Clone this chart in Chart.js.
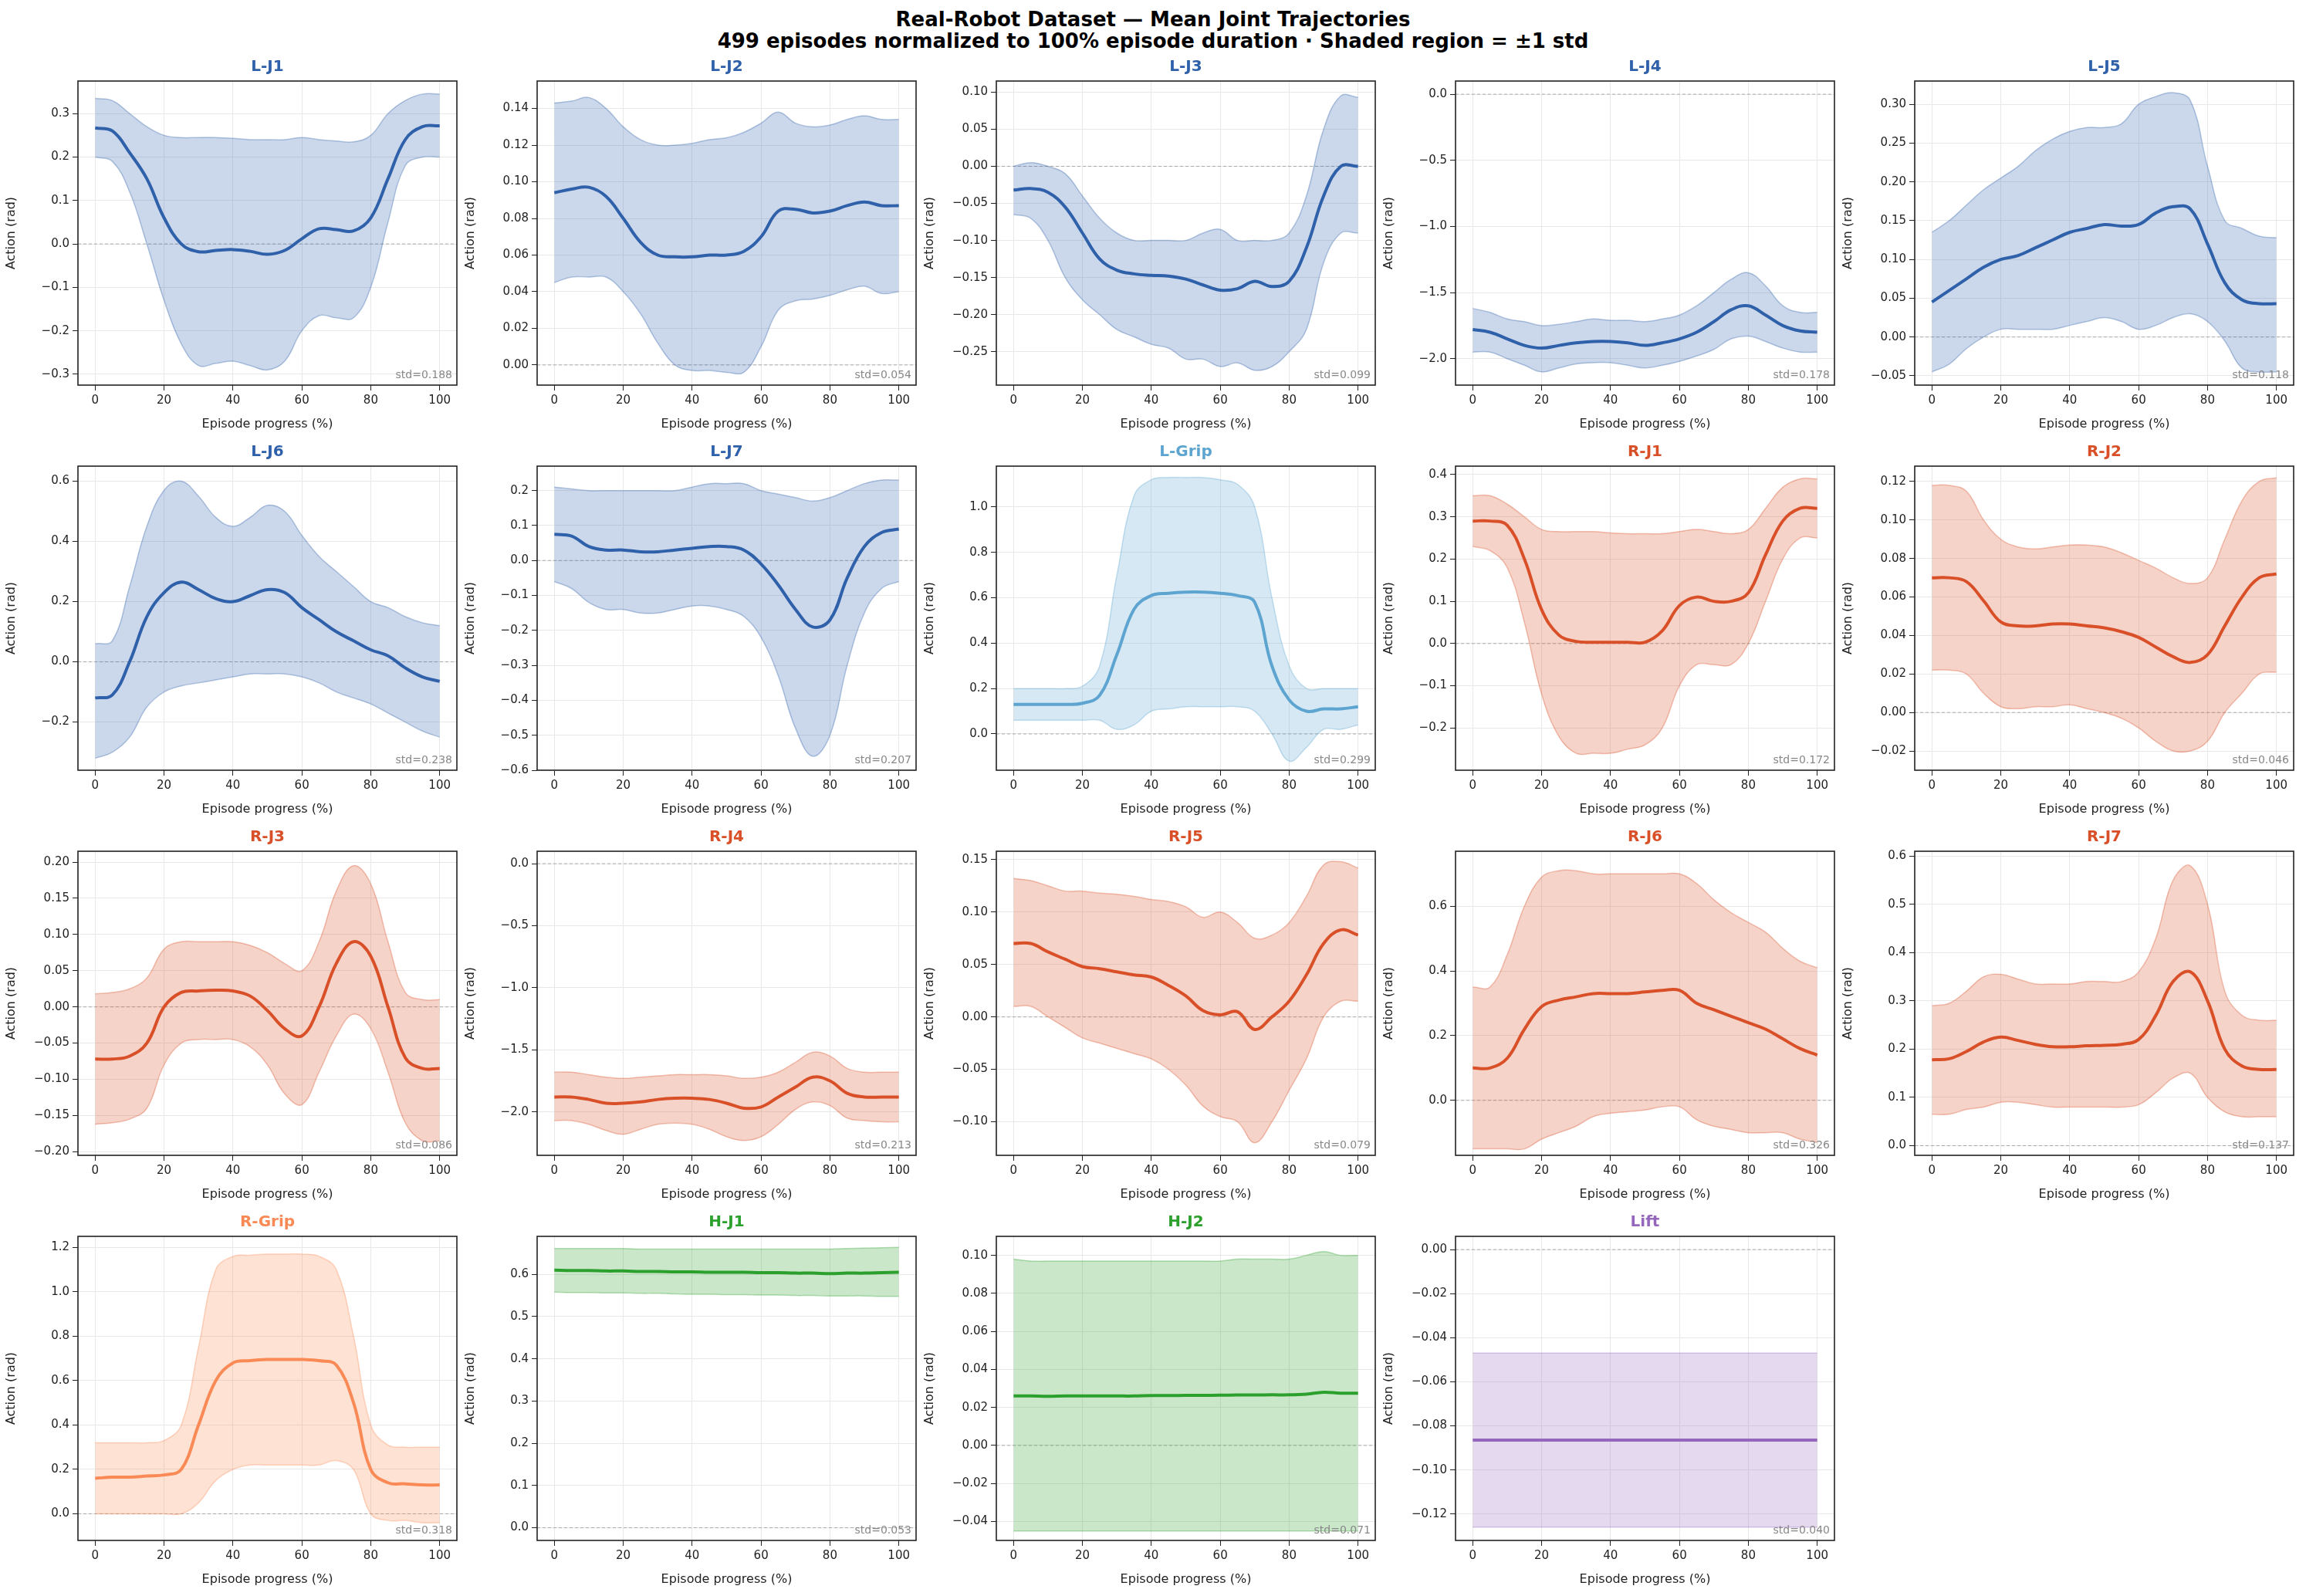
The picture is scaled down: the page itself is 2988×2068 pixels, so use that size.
<!DOCTYPE html>
<html><head><meta charset="utf-8">
<script src="https://cdn.jsdelivr.net/npm/chart.js@4.4.0/dist/chart.umd.min.js"></script>
<style>
html,body{margin:0;padding:0;background:#fff;width:2988px;height:2068px;overflow:hidden;font-family:"DejaVu Sans",sans-serif}
.cell{position:absolute}
#t1,#t2{position:absolute;left:0;width:2988px;text-align:center;font-weight:bold;font-size:26px;color:#000}
</style></head><body>
<div id="t1" style="top:10px">Real-Robot Dataset — Mean Joint Trajectories</div>
<div id="t2" style="top:38px">499 episodes normalized to 100% episode duration · Shaded region = ±1 std</div>
<script>
const progress = [0,5,10,15,20,25,30,35,40,45,50,55,60,65,70,75,80,85,90,95,100];
const xTicks = [0,20,40,60,80,100];
const names = ["L-J1","L-J2","L-J3","L-J4","L-J5","L-J6","L-J7","L-Grip","R-J1","R-J2","R-J3","R-J4","R-J5","R-J6","R-J7","R-Grip","H-J1","H-J2","Lift"];
const stds = ["0.188","0.054","0.099","0.178","0.118","0.238","0.207","0.299","0.172","0.046","0.086","0.213","0.079","0.326","0.137","0.318","0.053","0.071","0.040"];
const yRanges = [[-0.325,0.375],[-0.011,0.155],[-0.295,0.115],[-2.2,0.1],[-0.062,0.33],[-0.36,0.65],[-0.6,0.27],[-0.16,1.18],[-0.3,0.42],[-0.03,0.128],[-0.205,0.215],[-2.35,0.1],[-0.132,0.158],[-0.17,0.77],[-0.02,0.61],[-0.12,1.25],[-0.03,0.69],[-0.05,0.11],[-0.132,0.006]];
const yTicks = [
[-0.3,-0.2,-0.1,0,0.1,0.2,0.3],
[0,0.02,0.04,0.06,0.08,0.10,0.12,0.14],
[-0.25,-0.2,-0.15,-0.1,-0.05,0,0.05,0.1],
[-2.0,-1.5,-1.0,-0.5,0.0],
[-0.05,0,0.05,0.1,0.15,0.2,0.25,0.3],
[-0.2,0,0.2,0.4,0.6],
[-0.6,-0.5,-0.4,-0.3,-0.2,-0.1,0,0.1,0.2],
[0,0.2,0.4,0.6,0.8,1.0],
[-0.2,-0.1,0,0.1,0.2,0.3,0.4],
[-0.02,0,0.02,0.04,0.06,0.08,0.10,0.12],
[-0.2,-0.15,-0.1,-0.05,0,0.05,0.1,0.15,0.2],
[-2.0,-1.5,-1.0,-0.5,0.0],
[-0.1,-0.05,0,0.05,0.1,0.15],
[0,0.2,0.4,0.6],
[0,0.1,0.2,0.3,0.4,0.5,0.6],
[0,0.2,0.4,0.6,0.8,1.0,1.2],
[0,0.1,0.2,0.3,0.4,0.5,0.6],
[-0.04,-0.02,0,0.02,0.04,0.06,0.08,0.10],
[-0.12,-0.10,-0.08,-0.06,-0.04,-0.02,0.00]];
const yDecimals = [1,2,2,1,2,1,1,1,1,2,2,1,2,1,1,1,1,2,2];
const means = [
[0.267,0.26,0.21,0.15,0.06,0.0,-0.018,-0.015,-0.013,-0.017,-0.024,-0.015,0.012,0.035,0.033,0.03,0.06,0.15,0.24,0.27,0.272],
[0.094,0.096,0.097,0.092,0.08,0.067,0.06,0.059,0.059,0.06,0.06,0.062,0.07,0.084,0.085,0.083,0.084,0.087,0.089,0.087,0.087],
[-0.032,-0.03,-0.035,-0.055,-0.09,-0.125,-0.14,-0.145,-0.147,-0.148,-0.152,-0.16,-0.167,-0.165,-0.155,-0.162,-0.155,-0.11,-0.04,0.0,0.0],
[-1.78,-1.8,-1.85,-1.9,-1.92,-1.9,-1.88,-1.87,-1.87,-1.88,-1.9,-1.88,-1.85,-1.8,-1.72,-1.63,-1.6,-1.67,-1.75,-1.79,-1.8],
[0.045,0.06,0.075,0.09,0.1,0.105,0.115,0.125,0.135,0.14,0.145,0.143,0.145,0.16,0.168,0.165,0.12,0.07,0.048,0.043,0.043],
[-0.12,-0.11,0.0,0.15,0.23,0.265,0.24,0.21,0.2,0.22,0.24,0.23,0.18,0.14,0.1,0.07,0.04,0.02,-0.02,-0.05,-0.065],
[0.075,0.07,0.04,0.03,0.03,0.025,0.025,0.03,0.035,0.04,0.04,0.03,-0.01,-0.07,-0.14,-0.19,-0.17,-0.05,0.04,0.08,0.09],
[0.13,0.13,0.13,0.13,0.135,0.17,0.35,0.55,0.61,0.62,0.625,0.625,0.62,0.61,0.58,0.3,0.15,0.1,0.11,0.11,0.12],
[0.29,0.29,0.28,0.2,0.08,0.02,0.005,0.003,0.003,0.003,0.003,0.03,0.09,0.11,0.1,0.1,0.12,0.21,0.29,0.32,0.32],
[0.07,0.07,0.068,0.058,0.047,0.045,0.045,0.046,0.046,0.045,0.044,0.042,0.039,0.034,0.029,0.026,0.03,0.045,0.06,0.07,0.072],
[-0.072,-0.072,-0.068,-0.05,0.0,0.02,0.022,0.023,0.022,0.015,-0.005,-0.03,-0.04,0.0,0.06,0.09,0.07,0.0,-0.07,-0.085,-0.085],
[-1.88,-1.88,-1.9,-1.93,-1.93,-1.92,-1.9,-1.89,-1.89,-1.9,-1.93,-1.97,-1.96,-1.88,-1.8,-1.72,-1.75,-1.85,-1.88,-1.88,-1.88],
[0.07,0.07,0.062,0.055,0.048,0.046,0.043,0.04,0.038,0.03,0.02,0.006,0.002,0.005,-0.012,0.0,0.015,0.04,0.07,0.083,0.078],
[0.1,0.1,0.13,0.22,0.29,0.31,0.32,0.33,0.33,0.33,0.335,0.34,0.34,0.3,0.28,0.26,0.24,0.22,0.19,0.16,0.14],
[0.178,0.18,0.195,0.215,0.225,0.218,0.21,0.205,0.205,0.207,0.208,0.21,0.22,0.27,0.34,0.36,0.3,0.2,0.165,0.158,0.158],
[0.16,0.165,0.165,0.17,0.175,0.2,0.4,0.6,0.68,0.69,0.695,0.695,0.695,0.69,0.67,0.5,0.2,0.14,0.135,0.13,0.13],
[0.61,0.609,0.609,0.608,0.608,0.607,0.607,0.606,0.606,0.605,0.605,0.605,0.604,0.604,0.603,0.603,0.602,0.603,0.603,0.604,0.605],
[0.026,0.026,0.0258,0.026,0.026,0.026,0.026,0.026,0.0262,0.0262,0.0263,0.0263,0.0264,0.0265,0.0265,0.0266,0.0266,0.027,0.028,0.0275,0.0275],
[-0.0865,-0.0865,-0.0865,-0.0865,-0.0865,-0.0865,-0.0865,-0.0865,-0.0865,-0.0865,-0.0865,-0.0865,-0.0865,-0.0865,-0.0865,-0.0865,-0.0865,-0.0865,-0.0865,-0.0865,-0.0865]];
const uppers = [
[0.335,0.33,0.3,0.27,0.25,0.245,0.245,0.245,0.243,0.24,0.24,0.24,0.245,0.24,0.237,0.235,0.25,0.3,0.33,0.345,0.345],
[0.143,0.144,0.146,0.14,0.13,0.123,0.12,0.12,0.121,0.123,0.124,0.127,0.132,0.138,0.132,0.13,0.131,0.134,0.136,0.134,0.134],
[0.0,0.005,0.0,-0.01,-0.04,-0.07,-0.09,-0.1,-0.1,-0.1,-0.1,-0.09,-0.085,-0.1,-0.1,-0.1,-0.09,-0.04,0.05,0.095,0.093],
[-1.62,-1.65,-1.7,-1.72,-1.75,-1.74,-1.72,-1.7,-1.71,-1.71,-1.72,-1.7,-1.67,-1.6,-1.5,-1.4,-1.35,-1.45,-1.6,-1.65,-1.65],
[0.135,0.15,0.17,0.19,0.205,0.22,0.24,0.255,0.265,0.27,0.27,0.275,0.3,0.31,0.315,0.305,0.22,0.15,0.14,0.13,0.128],
[0.06,0.07,0.25,0.45,0.57,0.6,0.55,0.48,0.45,0.48,0.52,0.5,0.42,0.35,0.3,0.25,0.2,0.18,0.15,0.13,0.12],
[0.21,0.205,0.2,0.2,0.2,0.2,0.2,0.2,0.21,0.22,0.22,0.22,0.2,0.19,0.18,0.17,0.18,0.2,0.22,0.23,0.23],
[0.2,0.2,0.2,0.2,0.21,0.3,0.7,1.05,1.12,1.13,1.13,1.13,1.12,1.1,1.0,0.6,0.3,0.2,0.2,0.2,0.2],
[0.35,0.35,0.33,0.3,0.27,0.265,0.265,0.265,0.262,0.26,0.26,0.26,0.265,0.27,0.265,0.26,0.27,0.32,0.37,0.39,0.39],
[0.118,0.118,0.115,0.1,0.09,0.086,0.085,0.086,0.087,0.087,0.086,0.083,0.079,0.075,0.07,0.067,0.07,0.09,0.11,0.12,0.122],
[0.018,0.02,0.025,0.04,0.08,0.09,0.09,0.09,0.09,0.085,0.075,0.06,0.05,0.09,0.16,0.195,0.17,0.09,0.02,0.01,0.01],
[-1.68,-1.68,-1.7,-1.72,-1.73,-1.72,-1.71,-1.7,-1.7,-1.7,-1.71,-1.73,-1.72,-1.68,-1.6,-1.52,-1.55,-1.65,-1.68,-1.68,-1.68],
[0.132,0.13,0.125,0.12,0.12,0.118,0.117,0.115,0.112,0.11,0.105,0.095,0.1,0.09,0.075,0.078,0.09,0.115,0.145,0.148,0.142],
[0.35,0.35,0.45,0.6,0.69,0.71,0.71,0.7,0.7,0.7,0.7,0.7,0.7,0.67,0.62,0.58,0.55,0.52,0.47,0.43,0.41],
[0.29,0.295,0.32,0.35,0.355,0.345,0.335,0.335,0.335,0.34,0.34,0.34,0.36,0.43,0.55,0.58,0.5,0.32,0.27,0.26,0.26],
[0.32,0.32,0.32,0.32,0.33,0.4,0.75,1.1,1.16,1.165,1.17,1.17,1.17,1.16,1.1,0.8,0.4,0.31,0.3,0.3,0.3],
[0.661,0.661,0.661,0.661,0.661,0.66,0.66,0.66,0.66,0.66,0.66,0.66,0.66,0.66,0.66,0.66,0.66,0.661,0.662,0.663,0.664],
[0.098,0.097,0.097,0.097,0.097,0.097,0.097,0.097,0.097,0.097,0.097,0.097,0.097,0.098,0.098,0.098,0.098,0.1,0.102,0.1,0.1],
[-0.047,-0.047,-0.047,-0.047,-0.047,-0.047,-0.047,-0.047,-0.047,-0.047,-0.047,-0.047,-0.047,-0.047,-0.047,-0.047,-0.047,-0.047,-0.047,-0.047,-0.047]];
const lowers = [
[0.2,0.19,0.12,0.0,-0.13,-0.23,-0.28,-0.275,-0.27,-0.28,-0.29,-0.27,-0.2,-0.165,-0.17,-0.17,-0.1,0.05,0.18,0.2,0.2],
[0.045,0.048,0.048,0.048,0.04,0.028,0.012,0.0,-0.003,-0.003,-0.004,-0.004,0.01,0.03,0.035,0.036,0.038,0.041,0.043,0.039,0.04],
[-0.065,-0.07,-0.1,-0.15,-0.18,-0.2,-0.22,-0.23,-0.24,-0.245,-0.26,-0.26,-0.27,-0.265,-0.275,-0.27,-0.25,-0.22,-0.13,-0.09,-0.09],
[-1.95,-1.95,-2.0,-2.05,-2.1,-2.07,-2.04,-2.03,-2.03,-2.05,-2.07,-2.05,-2.02,-1.98,-1.93,-1.85,-1.83,-1.87,-1.92,-1.95,-1.95],
[-0.045,-0.035,-0.015,0.0,0.01,0.01,0.01,0.01,0.015,0.02,0.025,0.02,0.01,0.015,0.025,0.03,0.02,-0.005,-0.04,-0.045,-0.045],
[-0.32,-0.3,-0.25,-0.15,-0.1,-0.08,-0.07,-0.06,-0.05,-0.04,-0.04,-0.04,-0.05,-0.07,-0.1,-0.12,-0.14,-0.17,-0.2,-0.23,-0.25],
[-0.06,-0.08,-0.12,-0.14,-0.14,-0.15,-0.15,-0.14,-0.13,-0.13,-0.14,-0.16,-0.22,-0.33,-0.48,-0.56,-0.5,-0.3,-0.15,-0.08,-0.06],
[0.06,0.06,0.06,0.06,0.06,0.06,0.02,0.04,0.1,0.11,0.12,0.12,0.12,0.12,0.1,0.0,-0.12,-0.06,0.02,0.02,0.04],
[0.23,0.22,0.18,0.05,-0.12,-0.22,-0.26,-0.26,-0.26,-0.25,-0.24,-0.2,-0.1,-0.05,-0.05,-0.05,0.0,0.1,0.2,0.25,0.25],
[0.022,0.022,0.02,0.01,0.003,0.002,0.003,0.003,0.004,0.002,0.0,-0.003,-0.008,-0.015,-0.02,-0.02,-0.015,0.0,0.01,0.02,0.021],
[-0.162,-0.16,-0.155,-0.14,-0.08,-0.05,-0.045,-0.045,-0.045,-0.055,-0.08,-0.12,-0.135,-0.09,-0.04,-0.01,-0.03,-0.09,-0.16,-0.185,-0.185],
[-2.07,-2.07,-2.1,-2.15,-2.18,-2.14,-2.1,-2.09,-2.1,-2.14,-2.2,-2.23,-2.2,-2.1,-1.98,-1.92,-1.95,-2.05,-2.07,-2.08,-2.08],
[0.01,0.01,0.0,-0.01,-0.02,-0.025,-0.03,-0.035,-0.04,-0.05,-0.065,-0.085,-0.095,-0.1,-0.12,-0.1,-0.07,-0.04,0.0,0.015,0.015],
[-0.15,-0.15,-0.15,-0.15,-0.12,-0.1,-0.08,-0.05,-0.04,-0.035,-0.03,-0.02,-0.02,-0.06,-0.08,-0.09,-0.1,-0.1,-0.1,-0.12,-0.13],
[0.065,0.065,0.075,0.08,0.09,0.09,0.085,0.08,0.08,0.08,0.08,0.08,0.085,0.11,0.14,0.15,0.1,0.07,0.06,0.06,0.06],
[0.0,0.0,0.0,0.0,0.0,0.0,0.05,0.15,0.2,0.22,0.22,0.22,0.22,0.22,0.24,0.2,0.0,-0.03,-0.03,-0.04,-0.04],
[0.558,0.557,0.557,0.556,0.556,0.555,0.555,0.554,0.553,0.553,0.552,0.552,0.551,0.551,0.55,0.55,0.549,0.549,0.549,0.548,0.548],
[-0.045,-0.045,-0.045,-0.045,-0.045,-0.045,-0.045,-0.045,-0.045,-0.045,-0.045,-0.045,-0.045,-0.045,-0.045,-0.045,-0.045,-0.045,-0.045,-0.045,-0.045],
[-0.126,-0.126,-0.126,-0.126,-0.126,-0.126,-0.126,-0.126,-0.126,-0.126,-0.126,-0.126,-0.126,-0.126,-0.126,-0.126,-0.126,-0.126,-0.126,-0.126,-0.126]];

const BLUE=[47,96,170], LBLUE=[93,165,208], RED=[217,80,40], ORANGE=[250,138,85], GREEN=[44,160,44], PURPLE=[148,103,189];
const colors = [BLUE,BLUE,BLUE,BLUE,BLUE,BLUE,BLUE,LBLUE,RED,RED,RED,RED,RED,RED,RED,ORANGE,GREEN,GREEN,PURPLE];
const rgba=(c,a)=>`rgba(${c[0]},${c[1]},${c[2]},${a})`;

const colL=[101,696,1291,1886,2481], rowT=[105,604,1103,1602], AW=491, AH=394;
const PADL=100, PADT=40, PADR=14, PADB=64;
const FONT='"DejaVu Sans", sans-serif';

const framePlugin={id:'frame',afterDraw(ch,args,o){
  const a=ch.chartArea, c=ch.ctx;
  c.save();
  c.strokeStyle='#222'; c.lineWidth=1.6; c.strokeRect(a.left,a.top,a.right-a.left,a.bottom-a.top);
  c.fillStyle='#888'; c.font='14px '+FONT; c.textAlign='right'; c.textBaseline='bottom';
  c.fillText('std='+o.std,a.right-6,a.bottom-6);
  c.fillStyle=o.tcolor; c.font='bold 20px '+FONT; c.textAlign='center'; c.textBaseline='bottom';
  c.fillText(o.title,(a.left+a.right)/2,a.top-8);
  c.restore();
}};

names.forEach((nm,i)=>{
  const r=Math.floor(i/5), cI=i%5;
  const div=document.createElement('div'); div.className='cell';
  div.style.left=(colL[cI]-PADL)+'px'; div.style.top=(rowT[r]-PADT)+'px';
  div.style.width=(PADL+AW+PADR)+'px'; div.style.height=(PADT+AH+PADB)+'px';
  const cv=document.createElement('canvas'); div.appendChild(cv); document.body.appendChild(div);
  const col=colors[i];
  const pts=a=>progress.map((x,k)=>({x:x,y:a[k]}));
  const dec=yDecimals[i];
  new Chart(cv,{type:'line',
    data:{datasets:[
      {data:pts(means[i]),borderColor:rgba(col,1),borderWidth:4,pointRadius:0,fill:false,order:0,tension:0.4},
      {data:pts(uppers[i]),borderColor:rgba(col,0.35),backgroundColor:rgba(col,0.25),borderWidth:1.5,pointRadius:0,fill:'+1',order:1,tension:0.4},
      {data:pts(lowers[i]),borderColor:rgba(col,0.35),borderWidth:1.5,pointRadius:0,fill:false,order:2,tension:0.4},
      {data:[{x:-5,y:0},{x:105,y:0}],borderColor:'#aaaaaa',borderDash:[4,3],borderWidth:1,pointRadius:0,fill:false,order:3}
    ]},
    options:{responsive:true,maintainAspectRatio:false,animation:false,
      layout:{padding:{top:PADT,right:PADR,left:0,bottom:0}},
      plugins:{legend:{display:false},tooltip:{enabled:false},frame:{std:stds[i],title:nm,tcolor:rgba(col,1)}},
      scales:{
        x:{type:'linear',min:-5,max:105,
          afterBuildTicks:s=>{s.ticks=xTicks.map(v=>({value:v}));},
          afterFit:s=>{s.height=PADB;},
          grid:{color:'#e8e8e8',tickColor:'#222',tickLength:7},border:{display:false},
          ticks:{color:'#222',font:{size:15,family:FONT},padding:4,maxRotation:0},
          title:{display:true,text:'Episode progress (%)',color:'#222',font:{size:16,family:FONT},padding:{top:4}}},
        y:{type:'linear',min:yRanges[i][0],max:yRanges[i][1],
          afterBuildTicks:s=>{s.ticks=yTicks[i].map(v=>({value:v}));},
          afterFit:s=>{s.width=PADL;},
          grid:{color:'#e8e8e8',tickColor:'#222',tickLength:7},border:{display:false},
          ticks:{color:'#222',font:{size:15,family:FONT},padding:4,callback:v=>Number(v).toFixed(dec).replace('-','−')},
          title:{display:true,text:'Action (rad)',color:'#222',font:{size:16,family:FONT},padding:{bottom:4}}}
      }},
    plugins:[framePlugin]});
});
</script></body></html>
